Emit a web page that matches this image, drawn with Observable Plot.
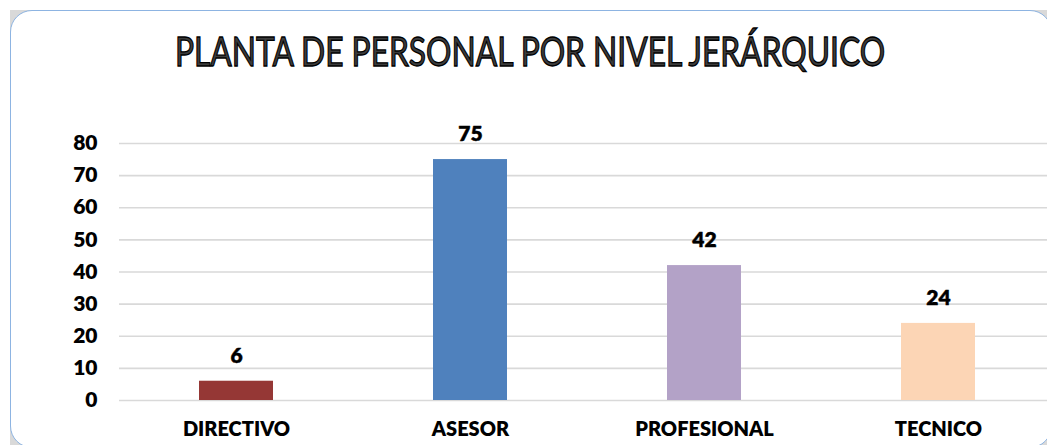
<!DOCTYPE html>
<html>
<head>
<meta charset="utf-8">
<script src="https://cdn.jsdelivr.net/npm/d3@7"></script>
<script src="https://cdn.jsdelivr.net/npm/@observablehq/plot@0.6"></script>
<style>
  html, body { margin: 0; padding: 0; background: #fff; width: 1047px; height: 445px; overflow: hidden; }
  #wrap { position: relative; width: 1047px; height: 445px; overflow: hidden; font-family: Lato, "Liberation Sans", sans-serif; }
  #shadow { position: absolute; left: 10px; top: 10px; width: 1042px; height: 438px; background: #d9d9d9; }
  #card { position: absolute; left: 10px; top: 10px; width: 1042px; height: 438px; background: #fff; border: 1.5px solid #8db4e2; border-radius: 22px; box-sizing: border-box; }
  #title { position: absolute; left: 0; top: 26px; width: 1047px; height: 60px; }
  #title span { position: absolute; left: 530px; top: 0; white-space: nowrap; font-size: 40px; line-height: 50px; font-weight: 400; color: #3c3c3c; -webkit-text-stroke: 1.3px #000; transform-origin: center center; }
  #chart { position: absolute; left: 0; top: 100px; width: 1070px; }
  #chart svg { max-width: none !important; }
</style>
</head>
<body>
<div id="wrap">
  <div id="shadow"></div>
  <div id="card"></div>
  <div id="title"><span>PLANTA DE PERSONAL POR NIVEL JERÁRQUICO</span></div>
  <div id="chart"></div>
</div>
<script>
const categories = ["DIRECTIVO", "ASESOR", "PROFESIONAL", "TECNICO"];
const values = [6, 75, 42, 24];
const colors = ["#953735", "#4f81bd", "#b3a2c7", "#fcd5b5"];
const yTicks = [0, 10, 20, 30, 40, 50, 60, 70, 80];

const data = categories.map((c, i) => ({cat: c, value: values[i], color: colors[i]}));

const plot = Plot.plot({
  width: 1070,
  height: 345,
  marginTop: 43,
  marginBottom: 45,
  marginLeft: 119,
  marginRight: 15,
  style: {fontFamily: "Lato, 'Liberation Sans', sans-serif", background: "transparent", overflow: "visible", maxWidth: "none"},
  x: {domain: categories, paddingInner: 0.684, paddingOuter: 0.342, label: null},
  y: {domain: [0, 80], label: null},
  marks: [
    Plot.gridY(yTicks, {stroke: "#d9d9d9", strokeOpacity: 1, strokeWidth: 1.6}),
    Plot.barY(data, {x: "cat", y: "value", fill: "color"}),
    Plot.text(data, {x: "cat", y: "value", text: d => String(d.value), dy: -25, fontSize: 21, fontWeight: 800, fill: "#000", stroke: "#000", strokeWidth: 0.4}),
    Plot.axisY(yTicks, {tickSize: 0, tickPadding: 22, fontSize: 21, fontWeight: 800, fill: "#000", stroke: "#000", strokeWidth: 0.4, label: null}),
    Plot.axisX({tickSize: 0, tickPadding: 21, fontSize: 20, fontWeight: 800, fill: "#000", stroke: "#000", strokeWidth: 0.4, label: null, letterSpacing: "-0.6px"})
  ]
});
document.getElementById("chart").appendChild(plot);

// fit title to its width in the reference
const span = document.querySelector("#title span");
const w = span.offsetWidth;
const s = 710 / w;
span.style.transform = `translateX(-50%) scaleX(${s})`;
</script>
</body>
</html>
